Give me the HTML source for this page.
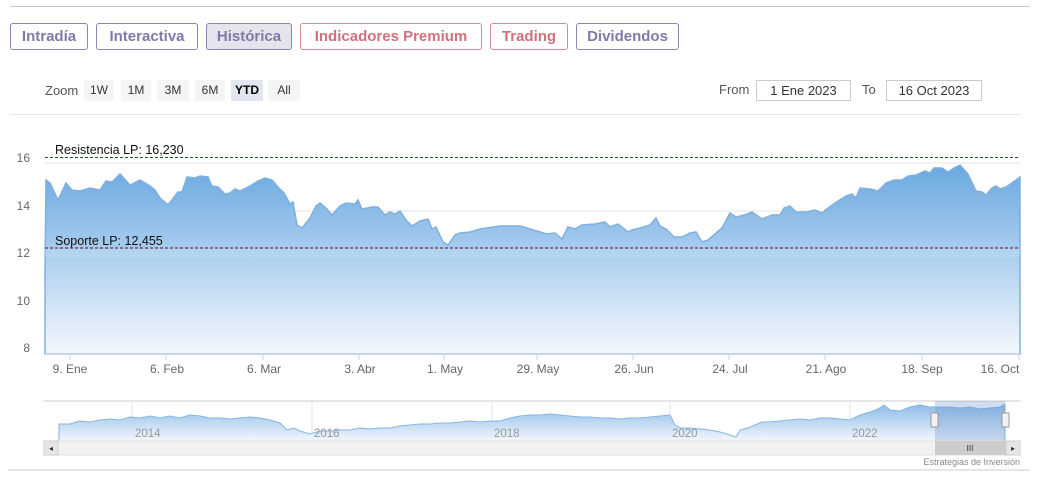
<!DOCTYPE html>
<html><head><meta charset="utf-8"><style>
body{margin:0;background:#fff;width:1038px;height:478px;overflow:hidden;font-family:"Liberation Sans",sans-serif;position:relative}
.tab{position:absolute;top:23px;height:27px;border:1px solid #8a87b0;border-radius:3px;box-sizing:border-box;font-size:15px;font-weight:bold;line-height:25px;text-align:center;color:#7f7aa8}
.red{border-color:#d98a95;color:#d0707f}
.btn{position:absolute;top:80px;height:21px;background:#f5f5f7;font-size:12px;line-height:21px;text-align:center;color:#333}
.inp{position:absolute;top:80px;height:21px;border:1px solid #ccc;box-sizing:border-box;font-size:13px;line-height:19px;text-align:center;color:#333}
</style></head><body>
<div style="position:absolute;left:10px;right:8px;top:6px;border-top:1px solid #c8c8d4"></div>
<div class="tab" style="left:10px;width:78px">Intradía</div>
<div class="tab" style="left:96px;width:102px">Interactiva</div>
<div class="tab" style="left:206px;width:86px;background:#e4e4ec">Histórica</div>
<div class="tab red" style="left:300px;width:182px">Indicadores Premium</div>
<div class="tab red" style="left:490px;width:78px">Trading</div>
<div class="tab" style="left:576px;width:103px">Dividendos</div>
<div style="position:absolute;left:45px;top:83px;font-size:13px;color:#555">Zoom</div>
<div class="btn" style="left:84px;width:30px">1W</div>
<div class="btn" style="left:121px;width:30px">1M</div>
<div class="btn" style="left:157px;width:32px">3M</div>
<div class="btn" style="left:195px;width:30px">6M</div>
<div class="btn" style="left:231px;width:32px;background:#e2e6f0;font-weight:bold;color:#000">YTD</div>
<div class="btn" style="left:268px;width:32px">All</div>
<div style="position:absolute;left:719px;top:82px;font-size:13px;color:#555">From</div>
<div class="inp" style="left:756px;width:95px">1 Ene 2023</div>
<div style="position:absolute;left:862px;top:82px;font-size:13px;color:#555">To</div>
<div class="inp" style="left:886px;width:96px">16 Oct 2023</div>
<div style="position:absolute;left:10px;width:1010px;top:114px;border-top:1px solid #e6e6e6"></div>
<svg width="1038" height="478" style="position:absolute;left:0;top:0" font-family="Liberation Sans, sans-serif">
<defs>
<linearGradient id="g" x1="0" y1="0" x2="0" y2="1"><stop offset="0" stop-color="#6aa8e0"/><stop offset="1" stop-color="#f4f8fd"/></linearGradient>
<linearGradient id="g2" x1="0" y1="0" x2="0" y2="1"><stop offset="0" stop-color="#8dbbe8"/><stop offset="1" stop-color="#f2f7fc"/></linearGradient>
</defs>
<g stroke="#e6e6e6"><line x1="45" x2="1020" y1="163" y2="163"/><line x1="45" x2="1020" y1="211" y2="211"/><line x1="45" x2="1020" y1="258" y2="258"/><line x1="45" x2="1020" y1="306" y2="306"/></g>
<g fill="#666" font-size="12" text-anchor="end"><text x="30" y="162">16</text><text x="30" y="210">14</text><text x="30" y="257">12</text><text x="30" y="305">10</text><text x="30" y="352">8</text></g>
<path fill="url(#g)" stroke="#7fb0df" stroke-width="1.5" d="M45,354 L45,270 46,180 50,183 58,200 66,183 72,190 80,191 90,188 100,190 106,181 112,182 120,174 130,185 140,180 150,186 155,190 160,198 168,205 178,192 182,192 187,177 195,178 200,176 208,177 212,186 218,187 225,194 230,193 235,189 240,191 250,186 258,181 265,178 272,180 278,187 284,193 290,204 293,202 297,225 302,228 310,218 316,206 320,203 326,208 332,215 340,206 346,203 355,204 358,200 362,209 372,207 378,207 385,215 390,212 395,214 400,211 406,220 412,226 420,221 428,219 432,229 436,227 443,242 448,245 455,235 460,233 470,232 480,229 500,226 520,226 547,234 555,233 562,239 568,227 575,229 582,225 595,224 605,222 610,227 618,224 628,232 632,230 640,228 650,225 656,218 660,226 666,229 674,237 682,237 690,233 696,232 702,242 708,240 715,234 722,228 730,213 736,217 745,215 752,212 762,219 772,215 780,215 784,208 790,206 796,212 806,212 815,210 822,213 828,208 838,201 846,196 852,194 856,198 860,188 870,189 878,191 886,183 894,180 902,180 908,176 916,175 925,171 930,173 934,168 942,168 948,172 954,168 960,165 968,174 976,191 982,192 986,195 992,188 996,186 1000,189 1006,187 1012,183 1020,177 1020,354 Z"/>
<line x1="45" x2="1020" y1="157.5" y2="157.5" stroke="#1a5a1a" stroke-dasharray="3,2"/>
<line x1="45" x2="1020" y1="248" y2="248" stroke="#5a1030" stroke-dasharray="3,2"/>
<rect x="45" y="249" width="975" height="8" fill="#c4dcf0" opacity="0.4"/>
<text x="55" y="154" font-size="12.5" fill="#111">Resistencia LP: 16,230</text>
<text x="55" y="245" font-size="12.5" fill="#111">Soporte LP: 12,455</text>
<line x1="45" x2="1020" y1="354" y2="354" stroke="#ccd6eb"/>
<g stroke="#ccd6eb"><line x1="70" x2="70" y1="354" y2="360"/><line x1="166" x2="166" y1="354" y2="360"/><line x1="263" x2="263" y1="354" y2="360"/><line x1="359" x2="359" y1="354" y2="360"/><line x1="444" x2="444" y1="354" y2="360"/><line x1="537" x2="537" y1="354" y2="360"/><line x1="633" x2="633" y1="354" y2="360"/><line x1="729" x2="729" y1="354" y2="360"/><line x1="825" x2="825" y1="354" y2="360"/><line x1="922" x2="922" y1="354" y2="360"/><line x1="1019" x2="1019" y1="354" y2="360"/></g>
<g fill="#666" font-size="12" text-anchor="middle"><text x="70" y="373">9. Ene</text><text x="167" y="373">6. Feb</text><text x="264" y="373">6. Mar</text><text x="360" y="373">3. Abr</text><text x="445" y="373">1. May</text><text x="538" y="373">29. May</text><text x="634" y="373">26. Jun</text><text x="730" y="373">24. Jul</text><text x="826" y="373">21. Ago</text><text x="922" y="373">18. Sep</text><text x="1000" y="373">16. Oct</text></g>
<line x1="44" x2="1020" y1="401" y2="401" stroke="#ccc"/>
<g stroke="#e6e6e6"><line x1="132" x2="132" y1="401" y2="441"/><line x1="312" x2="312" y1="401" y2="441"/><line x1="492" x2="492" y1="401" y2="441"/><line x1="670" x2="670" y1="401" y2="441"/><line x1="850" x2="850" y1="401" y2="441"/></g>
<path fill="url(#g2)" stroke="#86b5e0" d="M59,441 L59,424 70,424 80,421 90,422 100,420 110,419 120,420 130,417 140,418 150,416 160,418 170,416 180,418 190,415 200,416 210,418 220,418 230,419 240,418 250,417 260,418 270,420 280,423 287,430 294,428 300,431 310,434 320,431 330,431 340,430 350,430 360,428 370,429 380,428 390,428 400,426 410,425 420,424 430,424 440,423 450,423 460,422 470,421 480,422 490,421 500,421 510,418 520,416 530,415 540,415 550,414 560,415 570,416 580,417 590,417 600,418 610,418 620,419 630,418 640,418 650,417 660,416 670,415 675,425 680,428 690,428 700,429 710,430 720,432 730,435 736,437 740,430 748,428 755,425 762,422 770,422 780,421 790,420 800,419 810,420 820,418 830,418 840,419 850,420 860,415 870,412 878,409 884,405 890,410 900,411 910,407 920,405 930,407 940,407 950,407 960,408 970,407 980,409 990,408 1000,407 1005,404 1005,441 Z"/>
<g fill="#999" font-size="11.5"><text x="135" y="437">2014</text><text x="314" y="437">2016</text><text x="494" y="437">2018</text><text x="672" y="437">2020</text><text x="852" y="437">2022</text></g>
<rect x="935" y="401" width="70" height="40" fill="#6691cc" opacity="0.3"/>
<rect x="931" y="413" width="7" height="14" fill="#f2f2f2" stroke="#999"/>
<rect x="1002" y="413" width="7" height="14" fill="#f2f2f2" stroke="#999"/>
<rect x="44" y="441" width="976" height="14" fill="#f2f2f2" stroke="#e0e0e0"/>
<rect x="44" y="441" width="14" height="14" fill="#e6e6e6" stroke="#ccc"/>
<rect x="1006" y="441" width="14" height="14" fill="#e6e6e6" stroke="#ccc"/>
<rect x="935" y="441" width="71" height="14" fill="#ccc"/>
<text x="51" y="451" font-size="8" fill="#333" text-anchor="middle">◂</text>
<text x="1013" y="451" font-size="8" fill="#333" text-anchor="middle">▸</text>
<text x="970" y="451" font-size="8" fill="#333" text-anchor="middle">III</text>
<text x="1020" y="465" font-size="9" fill="#888" text-anchor="end">Estrategias de Inversión</text>
<line x1="8" x2="1030" y1="470" y2="470" stroke="#ccc"/>
</svg>
</body></html>
